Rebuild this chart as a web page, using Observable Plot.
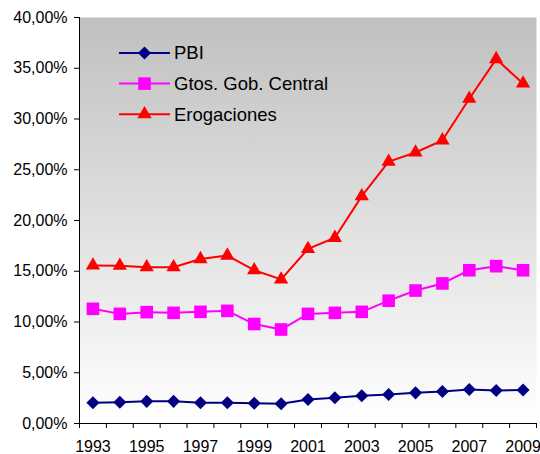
<!DOCTYPE html>
<html>
<head>
<meta charset="utf-8">
<script src="https://cdn.jsdelivr.net/npm/d3@7"></script>
<script src="https://cdn.jsdelivr.net/npm/@observablehq/plot@0.6"></script>
<style>
  html, body { margin: 0; padding: 0; background: #fff; }
  #chart { position: relative; width: 540px; height: 454px; }
</style>
</head>
<body>
<div id="chart"></div>
<script>
const years = [1993, 1994, 1995, 1996, 1997, 1998, 1999, 2000, 2001, 2002, 2003, 2004, 2005, 2006, 2007, 2008, 2009];
const pbi   = [2.04, 2.10, 2.18, 2.18, 2.04, 2.04, 2.00, 1.94, 2.36, 2.53, 2.73, 2.86, 3.02, 3.15, 3.35, 3.25, 3.30];
const gtos  = [11.3, 10.8, 10.97, 10.9, 11.0, 11.1, 9.8, 9.26, 10.8, 10.9, 11.0, 12.1, 13.1, 13.8, 15.1, 15.5, 15.1];
const erog  = [15.57, 15.55, 15.4, 15.4, 16.2, 16.55, 15.1, 14.2, 17.2, 18.3, 22.4, 25.8, 26.7, 27.9, 32.0, 35.9, 33.5];
const seriesNames = ["PBI", "Gtos. Gob. Central", "Erogaciones"];
const seriesColors = ["#000080", "#FF00FF", "#FF0000"];
const seriesSymbols = ["diamond2", "square", "triangle"];
const seriesR = [5.9, 7.1, 5.3];
const yTicks = [0, 0.05, 0.10, 0.15, 0.20, 0.25, 0.30, 0.35, 0.40];
const labelYears = [1993, 1995, 1997, 1999, 2001, 2003, 2005, 2007, 2009];

const values = [pbi, gtos, erog];
const data = [];
seriesNames.forEach((s, i) => {
  years.forEach((yr, j) => data.push({series: s, year: yr, value: values[i][j] / 100}));
});
const boundaries = years.map(y => y - 0.5).concat([years[years.length - 1] + 0.5]);
const fmt = d => (d * 100).toFixed(2).replace(".", ",") + "%";

const marks = [
  Plot.frame({fill: "url(#bgGrad)", stroke: "none"}),
  Plot.axisY({ticks: yTicks, tickFormat: fmt, tickSize: 5, tickPadding: 7, label: null}),
  Plot.axisX({ticks: boundaries, tickFormat: () => "", tickSize: 5, label: null}),
  Plot.axisX({ticks: labelYears, tickFormat: d => String(d), tickSize: 0, tickPadding: 17, label: null}),
  Plot.ruleX([boundaries[0]], {stroke: "#000"}),
  Plot.ruleY([0], {stroke: "#000"})
];
seriesNames.forEach((s, i) => {
  const rows = data.filter(d => d.series === s);
  marks.push(Plot.line(rows, {x: "year", y: "value", stroke: seriesColors[i], strokeWidth: 2}));
  marks.push(Plot.dot(rows, {x: "year", y: "value", symbol: () => seriesSymbols[i], fill: seriesColors[i], stroke: "none", r: seriesR[i]}));
});

const svg = Plot.plot({
  width: 540,
  height: 454,
  marginLeft: 79,
  marginRight: 4,
  marginTop: 17,
  marginBottom: 31,
  style: {fontFamily: "'Liberation Sans', Arial, sans-serif", fontSize: "16px", color: "#000", background: "transparent"},
  x: {type: "linear", domain: [boundaries[0], boundaries[boundaries.length - 1]]},
  y: {domain: [0, 0.4]},
  symbol: {type: "identity"},
  marks
});

const s = d3.select(svg);
const defs = s.insert("defs", ":first-child");
const grad = defs.append("linearGradient").attr("id", "bgGrad").attr("x1", 0).attr("y1", 0).attr("x2", 0).attr("y2", 1);
grad.append("stop").attr("offset", "0%").attr("stop-color", "#c0c0c0");
grad.append("stop").attr("offset", "100%").attr("stop-color", "#ffffff");

// legend inside the plot
const symMap = {diamond2: d3.symbolDiamond2, square: d3.symbolSquare, triangle: d3.symbolTriangle};
const lg = s.append("g").attr("font-family", "'Liberation Sans', Arial, sans-serif")
  .attr("font-size", "18.5px").attr("text-anchor", "start");
seriesNames.forEach((name, i) => {
  const y = 53 + i * 30.6;
  lg.append("line").attr("x1", 119).attr("x2", 170).attr("y1", y).attr("y2", y)
    .attr("stroke", seriesColors[i]).attr("stroke-width", 2);
  const r = seriesR[i];
  lg.append("path").attr("transform", `translate(144.5,${y})`)
    .attr("d", d3.symbol(symMap[seriesSymbols[i]], Math.PI * r * r)())
    .attr("fill", seriesColors[i]);
  lg.append("text").attr("x", 174).attr("y", y).attr("dy", "0.35em")
    .attr("text-anchor", "start").attr("fill", "#000").text(name);
});

document.getElementById("chart").appendChild(svg);
</script>
</body>
</html>
